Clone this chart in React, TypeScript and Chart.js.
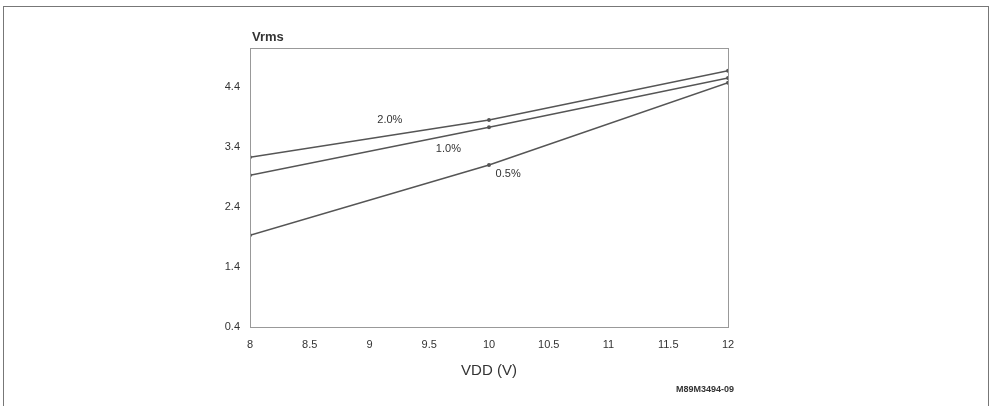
import React, { useEffect, useRef } from "react";
import { Chart, registerables } from "chart.js";

Chart.register(...registerables);

const xValues = [8, 10, 12];
const series20 = [3.23, 3.85, 4.67];
const series10 = [2.93, 3.73, 4.55];
const series05 = [1.93, 3.1, 4.47];
const seriesNames = ["2.0%", "1.0%", "0.5%"];
const yTickValues = [0.4, 1.4, 2.4, 3.4, 4.4];
const xTickValues = [8, 8.5, 9, 9.5, 10, 10.5, 11, 11.5, 12];
// label anchor points (data coordinates) for the series names
const labelX = [9.17, 9.66, 10.16];
const labelY = [3.85, 3.37, 2.95];

const FONT = "'Liberation Sans', Arial, sans-serif";

export default function App() {
  const ref = useRef<HTMLCanvasElement | null>(null);

  useEffect(() => {
    if (!ref.current) return;
    const mk = (vals: number[]) => xValues.map((x, i) => ({ x, y: vals[i] }));
    const decor = {
      id: "decor",
      beforeDraw(chart: any) {
        const ctx = chart.ctx;
        ctx.save();
        ctx.fillStyle = "#fff";
        ctx.fillRect(0, 0, chart.width, chart.height);
        ctx.strokeStyle = "#777";
        ctx.lineWidth = 1;
        ctx.strokeRect(3.5, 6.5, 985, 420);
        ctx.restore();
      },
      afterDraw(chart: any) {
        const ctx = chart.ctx;
        const a = chart.chartArea;
        const xs = chart.scales.x;
        const ys = chart.scales.y;
        ctx.save();
        ctx.strokeStyle = "#999";
        ctx.lineWidth = 1;
        ctx.strokeRect(Math.round(a.left) + 0.5, Math.round(a.top) + 0.5, Math.round(a.right - a.left), Math.round(a.bottom - a.top));
        ctx.fillStyle = "#333";
        ctx.font = `bold 13px ${FONT}`;
        ctx.textAlign = "left";
        ctx.textBaseline = "middle";
        ctx.fillText("Vrms", a.left + 2, 37);
        ctx.font = `11px ${FONT}`;
        ctx.textAlign = "center";
        seriesNames.forEach((n, i) => {
          ctx.fillText(n, xs.getPixelForValue(labelX[i]), ys.getPixelForValue(labelY[i]));
        });
        ctx.font = `bold 9px ${FONT}`;
        ctx.fillText("M89M3494-09", 705, 390);
        ctx.restore();
      },
    };
    const ds = (label: string, vals: number[]) => ({
      label,
      data: mk(vals),
      borderColor: "#555",
      backgroundColor: "#555",
      borderWidth: 1.5,
      pointRadius: 1.2,
      tension: 0,
    });
    const chart = new Chart(ref.current, {
      type: "line",
      data: {
        datasets: [ds(seriesNames[0], series20), ds(seriesNames[1], series10), ds(seriesNames[2], series05)],
      },
      plugins: [decor],
      options: {
        animation: false,
        responsive: false,
        layout: { padding: { left: 0, right: 266, top: 48, bottom: 0 } },
        plugins: { legend: { display: false }, tooltip: { enabled: false } },
        scales: {
          x: {
            type: "linear",
            min: 8,
            max: 12,
            afterBuildTicks: (s: any) => {
              s.ticks = xTickValues.map((v) => ({ value: v }));
            },
            afterFit: (s: any) => {
              s.height = 79;
            },
            grid: { display: false },
            border: { display: false },
            ticks: { color: "#333", font: { family: FONT, size: 11 }, padding: 3, maxRotation: 0, autoSkip: false, callback: (v: any) => String(v) },
            title: { display: true, text: "VDD (V)", color: "#333", font: { family: FONT, size: 15 }, padding: { top: 4, bottom: 26 } },
          },
          y: {
            type: "linear",
            min: 0.4,
            max: 5.05,
            afterBuildTicks: (s: any) => {
              s.ticks = yTickValues.map((v) => ({ value: v }));
            },
            afterFit: (s: any) => {
              s.width = 250;
            },
            grid: { display: false },
            border: { display: false },
            ticks: { color: "#333", font: { family: FONT, size: 11 }, padding: 2, callback: (v: any) => Number(v).toFixed(1) },
          },
        },
      },
    } as any);
    return () => chart.destroy();
  }, []);

  return (
    <div style={{ position: "fixed", left: 0, top: 0, width: 994, height: 406, background: "#fff" }}>
      <canvas ref={ref} width={994} height={406} style={{ width: 994, height: 406, display: "block" }} />
    </div>
  );
}
